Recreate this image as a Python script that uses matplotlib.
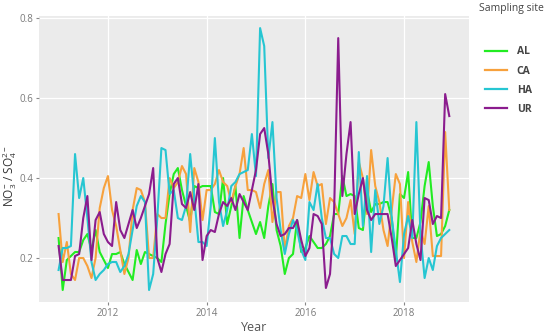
import numpy as np
import matplotlib
matplotlib.use("Agg")
import matplotlib.pyplot as plt

plt.rcParams['font.family'] = ['Open Sans', 'DejaVu Sans']
plt.rcParams['mathtext.fontset'] = 'custom'
plt.rcParams['mathtext.rm'] = 'Open Sans'
plt.rcParams['mathtext.it'] = 'Open Sans:italic'

start_year = 2011
n_months = 96

AL = [0.25, 0.12, 0.195, 0.205, 0.215, 0.215, 0.245, 0.26, 0.22, 0.27, 0.215, 0.195,
      0.175, 0.21, 0.21, 0.215, 0.185, 0.165, 0.145, 0.22, 0.185, 0.215, 0.21, 0.205,
      0.20, 0.19, 0.285, 0.36, 0.41, 0.425, 0.37, 0.33, 0.29, 0.38, 0.375, 0.38,
      0.38, 0.38, 0.315, 0.31, 0.40, 0.285, 0.33, 0.38, 0.25, 0.355, 0.32, 0.29,
      0.26, 0.29, 0.25, 0.33, 0.385, 0.27, 0.23, 0.16, 0.20, 0.21, 0.295, 0.215,
      0.225, 0.255, 0.24, 0.225, 0.225, 0.235, 0.255, 0.31, 0.31, 0.405, 0.355, 0.36,
      0.355, 0.275, 0.27, 0.37, 0.315, 0.335, 0.335, 0.34, 0.34, 0.30, 0.195, 0.36,
      0.35, 0.415, 0.25, 0.25, 0.29, 0.38, 0.44, 0.33, 0.255, 0.26, 0.28, 0.32]

CA = [0.31, 0.19, 0.24, 0.16, 0.145, 0.20, 0.20, 0.18, 0.15, 0.20, 0.325, 0.375,
      0.405, 0.32, 0.28, 0.22, 0.16, 0.20, 0.32, 0.375, 0.37, 0.34, 0.20, 0.20,
      0.31, 0.30, 0.30, 0.40, 0.375, 0.39, 0.43, 0.41, 0.265, 0.425, 0.39, 0.295,
      0.37, 0.37, 0.385, 0.42, 0.39, 0.38, 0.34, 0.38, 0.41, 0.475, 0.37, 0.37,
      0.365, 0.325, 0.385, 0.42, 0.29, 0.365, 0.365, 0.22, 0.28, 0.30, 0.355, 0.35,
      0.41, 0.345, 0.415, 0.38, 0.385, 0.285, 0.35, 0.34, 0.31, 0.28, 0.30, 0.345,
      0.26, 0.44, 0.40, 0.31, 0.47, 0.38, 0.34, 0.27, 0.23, 0.32, 0.41, 0.385,
      0.20, 0.34, 0.24, 0.19, 0.27, 0.235, 0.33, 0.205, 0.205, 0.205, 0.515, 0.32]

HA = [0.17, 0.225, 0.225, 0.23, 0.46, 0.35, 0.40, 0.30, 0.19, 0.145, 0.16, 0.17,
      0.185, 0.19, 0.19, 0.165, 0.18, 0.21, 0.27, 0.33, 0.355, 0.34, 0.12, 0.16,
      0.30, 0.475, 0.47, 0.36, 0.37, 0.30, 0.295, 0.33, 0.46, 0.35, 0.24, 0.24,
      0.23, 0.33, 0.50, 0.34, 0.28, 0.32, 0.38, 0.39, 0.41, 0.415, 0.42, 0.51,
      0.405, 0.775, 0.73, 0.45, 0.54, 0.35, 0.27, 0.21, 0.26, 0.295, 0.27, 0.22,
      0.195, 0.34, 0.32, 0.385, 0.30, 0.25, 0.25, 0.21, 0.20, 0.255, 0.255, 0.235,
      0.235, 0.465, 0.28, 0.405, 0.215, 0.37, 0.285, 0.33, 0.45, 0.30, 0.22, 0.14,
      0.26, 0.305, 0.25, 0.54, 0.26, 0.15, 0.20, 0.17, 0.23, 0.25, 0.26, 0.27]

UR = [0.23, 0.145, 0.145, 0.145, 0.205, 0.21, 0.30, 0.355, 0.195, 0.295, 0.315, 0.26,
      0.24, 0.23, 0.34, 0.27, 0.25, 0.285, 0.32, 0.275, 0.30, 0.33, 0.36, 0.425,
      0.20, 0.165, 0.21, 0.235, 0.385, 0.40, 0.335, 0.325, 0.365, 0.32, 0.385, 0.195,
      0.255, 0.27, 0.265, 0.31, 0.34, 0.33, 0.35, 0.32, 0.36, 0.34, 0.32, 0.37,
      0.42, 0.51, 0.525, 0.46, 0.35, 0.285, 0.255, 0.26, 0.275, 0.275, 0.295, 0.245,
      0.205, 0.225, 0.31, 0.305, 0.285, 0.125, 0.16, 0.32, 0.75, 0.355, 0.46, 0.54,
      0.31, 0.36, 0.40, 0.32, 0.295, 0.31, 0.31, 0.31, 0.31, 0.25, 0.18, 0.195,
      0.21, 0.225, 0.295, 0.235, 0.195, 0.35, 0.345, 0.285, 0.305, 0.30, 0.61, 0.555]

sites = ["AL", "CA", "HA", "UR"]
series = {"AL": AL, "CA": CA, "HA": HA, "UR": UR}
colors = {"AL": "#22ec22", "CA": "#f7a13c", "HA": "#26c6d2", "UR": "#8b1c8e"}

xticks = [2012, 2014, 2016, 2018]
yticks = [0.2, 0.4, 0.6, 0.8]

x = start_year + np.arange(n_months) / 12.0

fig = plt.figure(figsize=(5.5, 3.34), dpi=100)
ax = fig.add_axes([0.0709, 0.0958, 0.7818, 0.856])
ax.set_facecolor("#ebebeb")
ax.set_axisbelow(True)
ax.grid(True, color="white", linewidth=0.9)

handles = []
for s in sites:
    h, = ax.plot(x, series[s], color=colors[s], linewidth=1.5, label=s)
    handles.append(h)

ax.set_xlim(2010.603, 2019.316)
ax.set_ylim(0.09, 0.805)
ax.set_xticks(xticks)
ax.set_xticklabels([str(t) for t in xticks])
ax.set_yticks(yticks)
ax.set_yticklabels([f"{t:.1f}" for t in yticks])
for sp in ax.spines.values():
    sp.set_visible(False)
ax.tick_params(axis="both", colors="#888888", labelcolor="#7a7a7a", labelsize=7,
               length=2.5, width=0.8, pad=1.5)

ax.set_xlabel("Year", fontsize=9, color="#555555", labelpad=2)
ax.set_ylabel(r"NO$_{3}^{-}$ / SO$_{4}^{2-}$", fontsize=8.5, color="#333333")
ax.yaxis.set_label_coords(-0.046, 0.44)

fig.text(479 / 550, 1 - 9 / 334, "Sampling site", fontsize=7.5, color="#444444",
         ha="left", va="center")
leg = fig.legend(handles=handles, labels=sites, loc="upper left",
                 bbox_to_anchor=(476 / 550, 1 - 37 / 334), frameon=False,
                 handlelength=2.1, handletextpad=0.9, labelspacing=0.78,
                 prop={"size": 7.5, "weight": "bold"})
for t in leg.get_texts():
    t.set_color("#444444")
for h in leg.get_lines():
    h.set_linewidth(1.6)

fig.savefig("out.png", dpi=100)
